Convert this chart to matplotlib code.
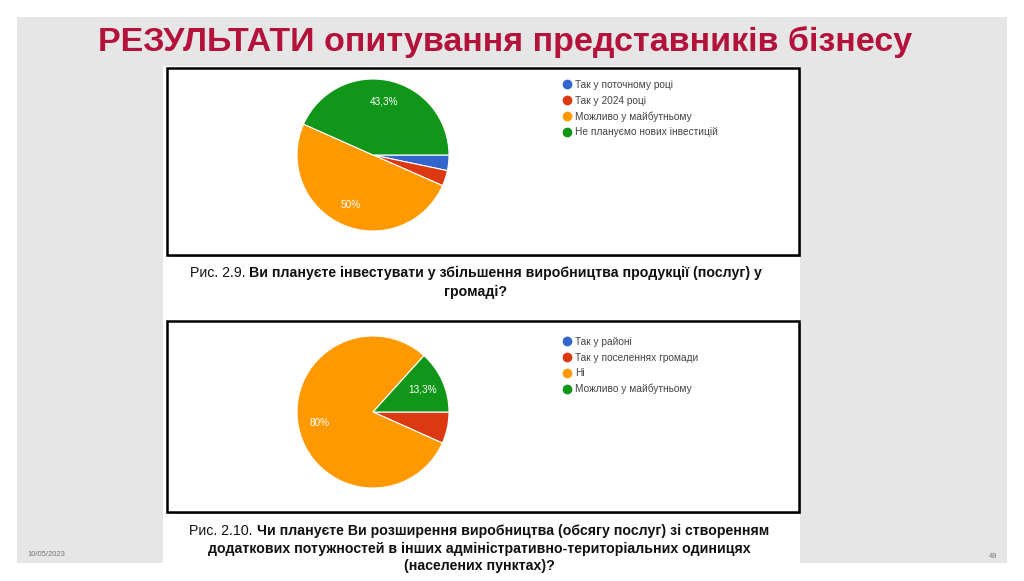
import matplotlib
matplotlib.use('Agg')
import matplotlib.pyplot as plt
from matplotlib.patches import Rectangle
from matplotlib.lines import Line2D

W, H = 1024, 581

title = "РЕЗУЛЬТАТИ опитування представників бізнесу"
colors = ['#3366cc', '#dc3912', '#ff9900', '#109618']

labels1 = ['Так у поточному році', 'Так у 2024 році', 'Можливо у майбутньому',
           'Не плануємо нових інвестицій']
values1 = [3.3, 3.3, 50.0, 43.3]

labels2 = ['Так у районі', 'Так у поселеннях громади', 'Ні', 'Можливо у майбутньому']
values2 = [0.0, 6.7, 80.0, 13.3]

caption1 = [
    [("Рис. 2.9. ", 'normal'),
     ("Ви плануєте інвестувати у збільшення виробництва продукції (послуг) у", 'bold')],
    [("громаді?", 'bold')],
]
caption2 = [
    [("Рис. 2.10. ", 'normal'),
     ("Чи плануєте Ви розширення виробництва (обсягу послуг) зі створенням", 'bold')],
    [("додаткових потужностей в інших адміністративно-територіальних одиницях", 'bold')],
    [("(населених пунктах)?", 'bold')],
]
date_text = "10/05/2023"
page_text = "49"

SANS = ['Liberation Sans', 'DejaVu Sans']

fig = plt.figure(figsize=(W / 100, H / 100), dpi=100)
fig.patch.set_facecolor('white')

bg = fig.add_axes([0, 0, 1, 1])
bg.set_xlim(0, W)
bg.set_ylim(H, 0)
bg.axis('off')

# slide background
bg.add_patch(Rectangle((17, 17), 990, 546, facecolor='#e6e6e6', edgecolor='none'))
# white picture area
bg.add_patch(Rectangle((163, 66), 637, 515, facecolor='white', edgecolor='none'))

# chart boxes with shadow
for (x0, y0, w, h) in [(167, 68, 632, 187), (167, 321, 632, 191)]:
    bg.add_patch(Rectangle((x0 + 2, y0 + 2), w, h, facecolor='#9a9a9a', edgecolor='none'))
    bg.add_patch(Rectangle((x0, y0), w, h, facecolor='white', edgecolor='black', linewidth=1.8))

# title
bg.text(505, 42, title, ha='center', va='center', fontsize=24.5, fontweight='bold',
        color='#b3123a', family=SANS)

bg.text(27, 555, date_text, ha='left', va='center', fontsize=5.5, color='#777777', family=SANS)
bg.text(993, 556, page_text, ha='center', va='center', fontsize=5.5, color='#777777', family=SANS)

renderer = fig.canvas.get_renderer()


def draw_caption(lines, y0, cx, dy, fs):
    for i, parts in enumerate(lines):
        y = y0 + i * dy
        texts = []
        widths = []
        for s, wgt in parts:
            t = bg.text(0, y, s, ha='left', va='center', fontsize=fs, fontweight=wgt,
                        color='#111111', family=SANS)
            texts.append(t)
            widths.append(t.get_window_extent(renderer).width)
        total = sum(widths)
        x = cx - total / 2
        for t, w in zip(texts, widths):
            t.set_x(x)
            x += w


draw_caption(caption1, 273, 476, 19, 10.2)
draw_caption(caption2, 531, 479, 17.5, 10.2)


def fmt(v):
    if v < 10:
        return ''
    s = f"{v:.1f}".rstrip('0').rstrip('.')
    return s.replace('.', ',') + '%'


def draw_pie(values, labels, cx, cy, r, legend_xy):
    ax = fig.add_axes([(cx - r) / W, 1 - (cy + r) / H, 2 * r / W, 2 * r / H])
    tot = sum(values)
    wedges, _, autotexts = ax.pie(values, colors=colors, startangle=0, counterclock=False,
                                  autopct=lambda p: fmt(p * tot / 100), pctdistance=0.72,
                                  wedgeprops=dict(edgecolor='white', linewidth=0.8),
                                  textprops=dict(color='white', fontsize=7.2, family=SANS))
    ax.set_xlim(-1.0, 1.0)
    ax.set_ylim(-1.0, 1.0)
    ax.set_aspect('auto')
    ax.axis('off')
    handles = [Line2D([], [], marker='o', linestyle='', markersize=6, color=c,
                      markeredgecolor=c) for c in colors]
    fig.legend(handles, labels, loc='upper left',
               bbox_to_anchor=(legend_xy[0] / W, 1 - legend_xy[1] / H),
               frameon=False, handlelength=0.6, handletextpad=0.5, labelspacing=0.55,
               borderpad=0, borderaxespad=0,
               prop=dict(family=SANS, size=7.3), labelcolor='#444444')


draw_pie(values1, labels1, 373, 155, 76, (564, 80))
draw_pie(values2, labels2, 373, 412, 76, (564, 337))

fig.savefig('out.png', dpi=100, facecolor='white')
